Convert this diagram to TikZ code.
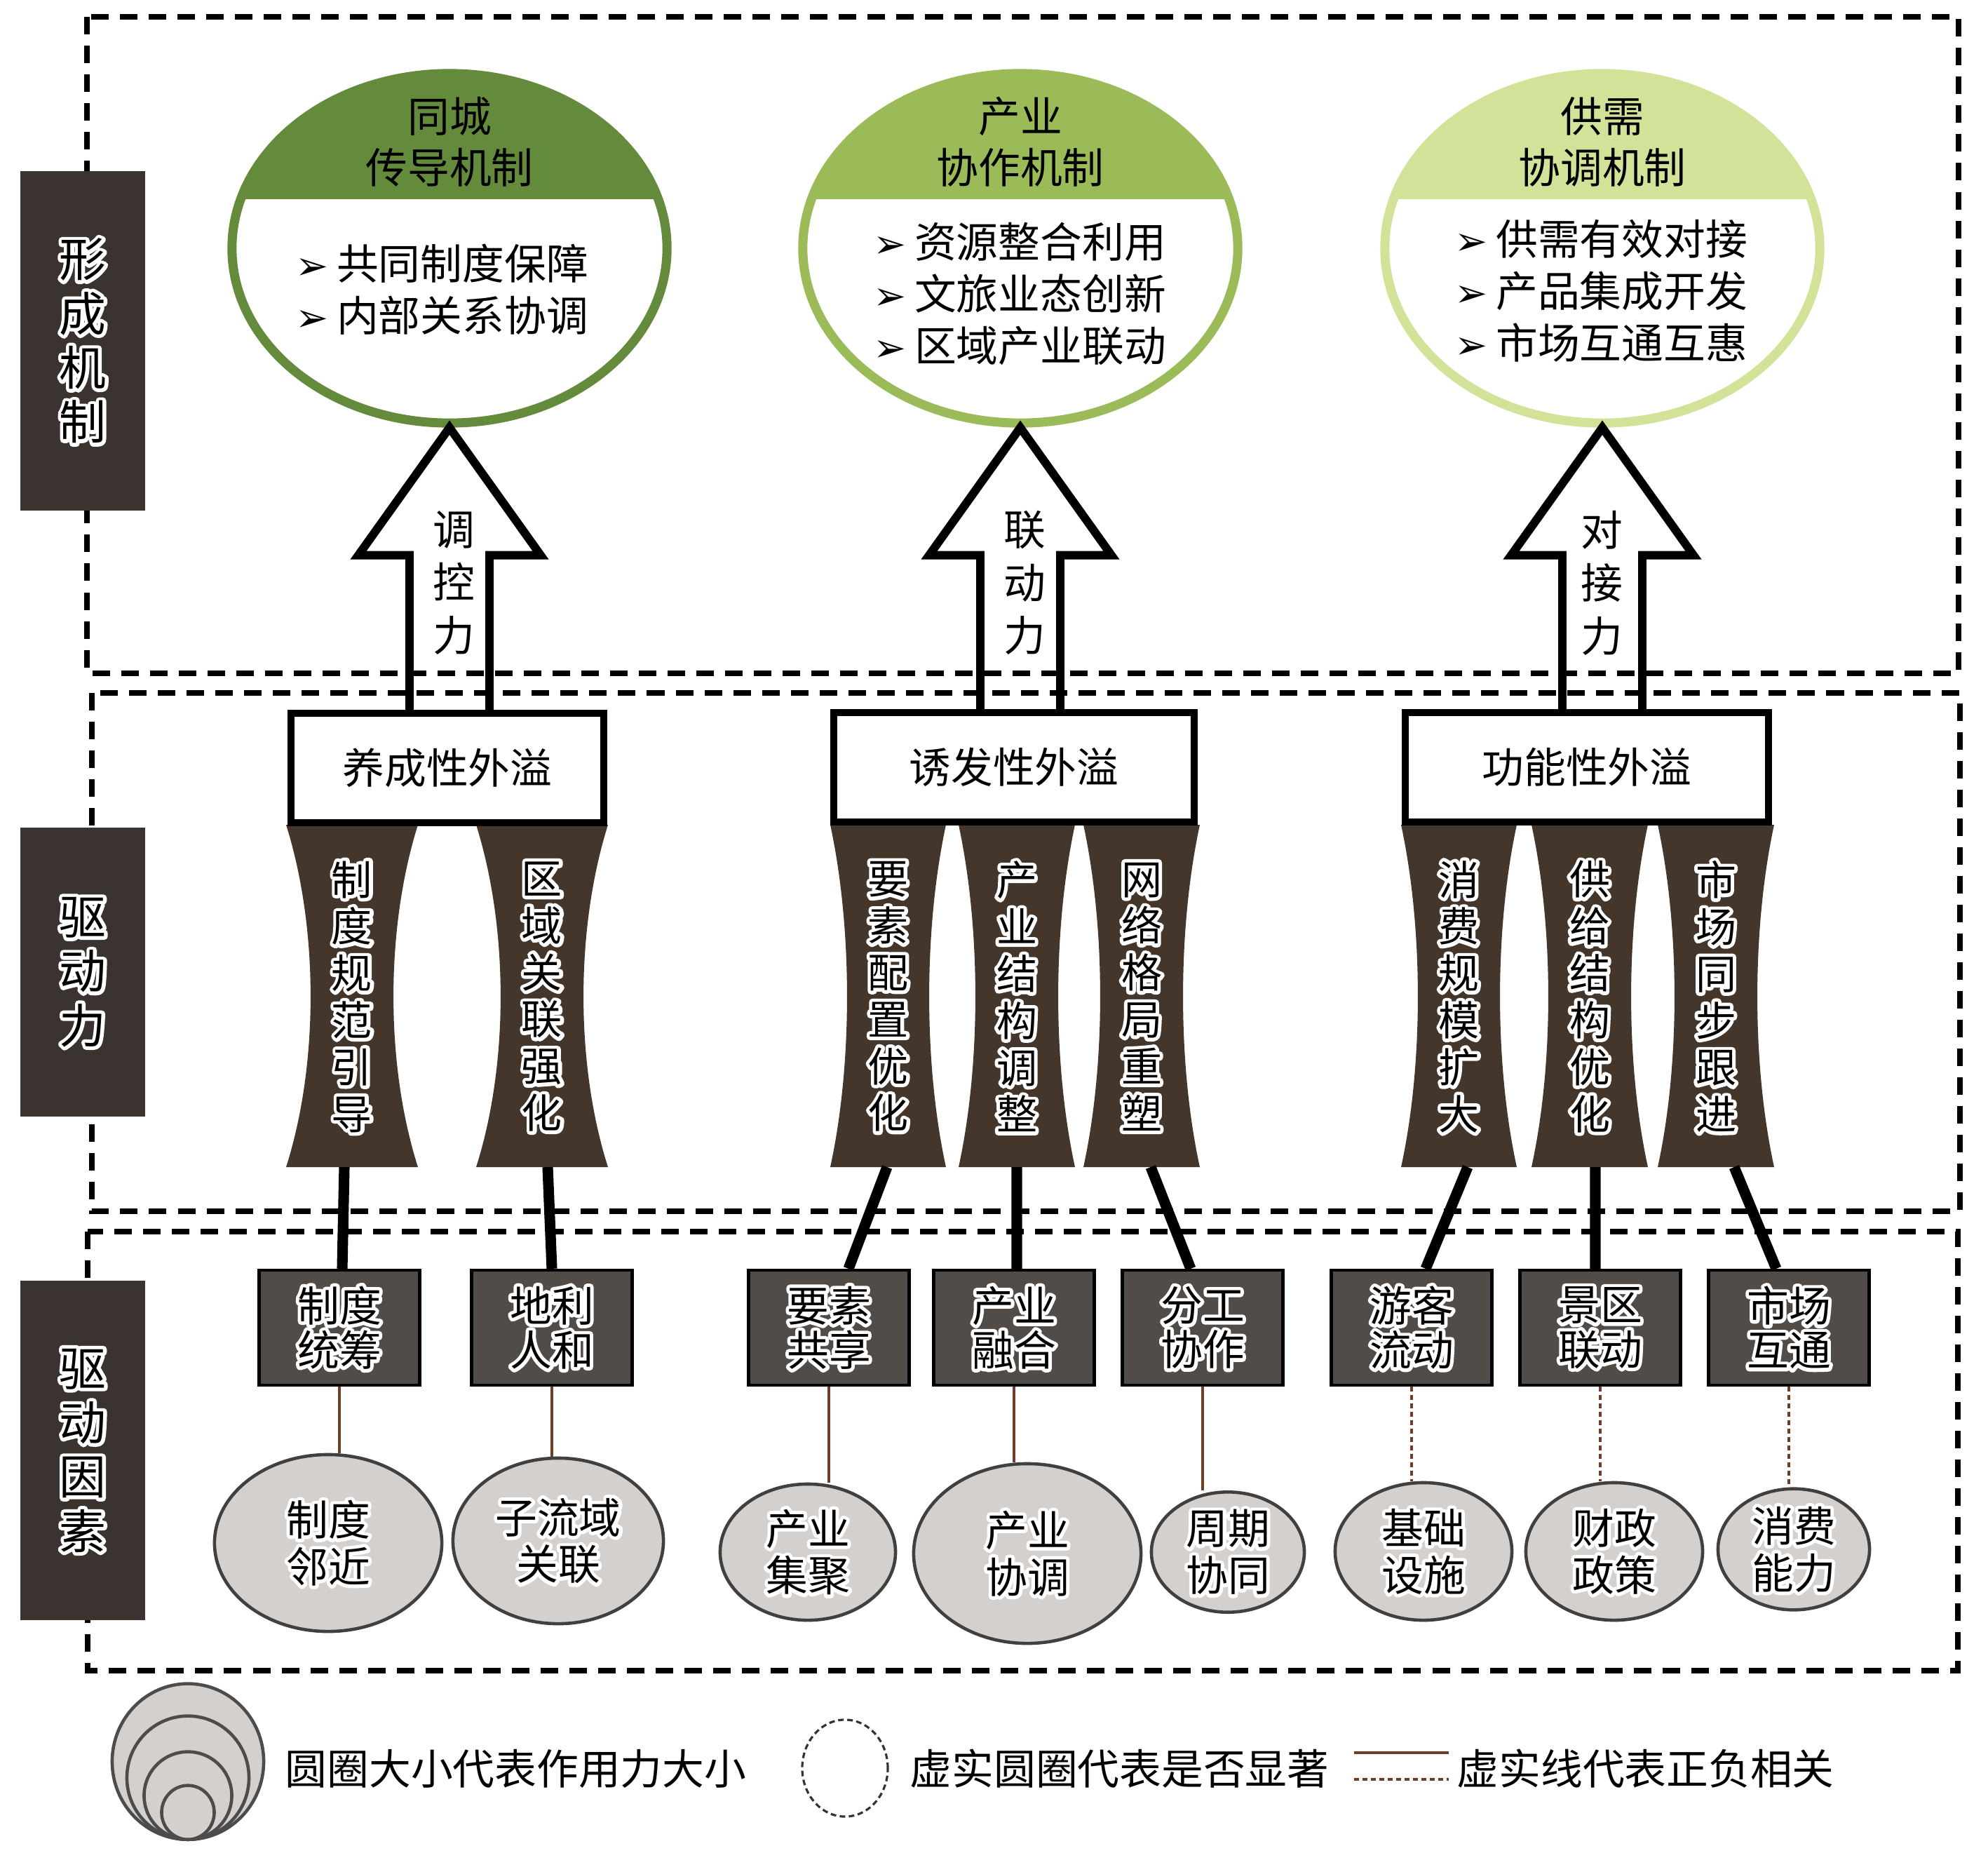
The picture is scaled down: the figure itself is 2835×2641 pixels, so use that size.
\documentclass[tikz,border=0pt]{standalone}
\usepackage{fontspec}
\setmainfont{Noto Sans CJK SC}
\newfontfamily\symfont{DejaVu Sans}
\usetikzlibrary{shapes.geometric,calc}

\definecolor{mechA}{RGB}{99,139,59}
\definecolor{mechB}{RGB}{155,187,89}
\definecolor{mechC}{RGB}{210,226,153}
\definecolor{barbrown}{RGB}{68,54,42}
\definecolor{labeldark}{RGB}{58,51,48}
\definecolor{factorgray}{RGB}{82,76,72}
\definecolor{ellgray}{RGB}{212,208,205}
\definecolor{linkbrown}{RGB}{115,60,40}

\newsavebox\halobox
\newcommand\halo[1]{\setbox\halobox=\hbox{#1}\leavevmode\hbox{\rlap{\color{white}\special{pdf:literal direct 1 Tr 2.8 w 1 j}\copy\halobox\special{pdf:literal direct 0 Tr}}\copy\halobox}}
\newcommand\stackc[2]{\vbox{\baselineskip=#1\lineskiplimit=-\maxdimen\lineskip=0pt\halign{\hfil##\hfil\cr#2\crcr}}}
\newcommand\bul{{\symfont\fontsize{16}{16}\selectfont ➢}\hspace{0.2em}}

\tikzset{
  dashbox/.style={line width=2.3pt, dash pattern=on 0.25cm off 0.16cm},
  sidelabel/.style={fill=labeldark, minimum width=1.78cm, inner sep=0pt, font=\fontsize{19}{22}\selectfont},
  mech/.style={ellipse, draw=#1, line width=3.7pt, minimum width=6.2cm, minimum height=4.98cm, inner sep=0pt,
    path picture={\fill[#1] (path picture bounding box.north west) rectangle ([yshift=-1.79cm]path picture bounding box.north east);}},
  plain/.style={inner sep=0pt, font=\fontsize{17}{21}\selectfont},
  bullets/.style={plain, align=left},
  bigarrow/.style={draw=black, line width=3.4pt, line join=miter},
  spill/.style={draw=black, line width=2.8pt, fill=white, minimum height=1.56cm, inner sep=0pt, font=\fontsize{17}{20}\selectfont},
  vbar/.style={inner sep=0pt, font=\fontsize{16.5}{19}\selectfont},
  force/.style={line width=4.3pt, black},
  factor/.style={draw=black, line width=1.2pt, fill=factorgray, minimum width=2.29cm, minimum height=1.64cm, inner sep=0pt, font=\fontsize{17}{18}\selectfont},
  factorell/.style={ellipse, draw=black!75, line width=1.3pt, fill=ellgray, inner sep=0pt, font=\fontsize{17}{19}\selectfont},
  link/.style={draw=linkbrown, line width=0.9pt},
  linkdash/.style={link, dash pattern=on 0.07cm off 0.05cm},
  legell/.style={ellipse, draw=black!70, line width=1.3pt, fill=ellgray, inner sep=0pt}
}

\begin{document}
\begin{tikzpicture}[x=0.01cm, y=-0.01cm]
\fill[white] (0,0) rectangle (2835,2641);
\useasboundingbox (0,0) rectangle (2835,2641);

\draw[dashbox] (124,24) rectangle (2793,960);
\draw[dashbox] (131,988) rectangle (2795,1727);
\draw[dashbox] (125,1756) rectangle (2792,2382);

\node[sidelabel, minimum height=4.84cm] (lb1) at (118,486) {\halo{\stackc{22pt}{形\cr 成\cr 机\cr 制}}};
\node[sidelabel, minimum height=4.12cm] (lb2) at (118,1386) {\halo{\stackc{22pt}{驱\cr 动\cr 力}}};
\node[sidelabel, minimum height=4.83cm] (lb3) at (118,2068) {\halo{\stackc{22pt}{驱\cr 动\cr 因\cr 素}}};

\node[mech=mechA] (m1) at (641,354) {};
\node[mech=mechB] (m2) at (1455,354) {};
\node[mech=mechC] (m3) at (2285,354) {};
\node[plain] (t1) at (641,202) {\stackc{20.7pt}{同城\cr 传导机制}};
\node[plain] (t2) at (1455,202) {\stackc{20.7pt}{产业\cr 协作机制}};
\node[plain] (t3) at (2285,202) {\stackc{20.7pt}{供需\cr 协调机制}};
\node[bullets] (b1) at (630,413) {\bul 共同制度保障\\\bul 内部关系协调};
\node[bullets] (b2) at (1454,419) {\bul 资源整合利用\\\bul 文旅业态创新\\\bul 区域产业联动};
\node[bullets] (b3) at (2283,415) {\bul 供需有效对接\\\bul 产品集成开发\\\bul 市场互通互惠};

\foreach \i/\lx/\w/\ins/\txt in {1/408/188/35/{制\cr 度\cr 规\cr 范\cr 引\cr 导}, 2/679/188/35/{区\cr 域\cr 关\cr 联\cr 强\cr 化},
  3/1184/165/24/{要\cr 素\cr 配\cr 置\cr 优\cr 化}, 4/1367/166/24/{产\cr 业\cr 结\cr 构\cr 调\cr 整}, 5/1545/166/24/{网\cr 络\cr 格\cr 局\cr 重\cr 塑},
  6/1998/165/24/{消\cr 费\cr 规\cr 模\cr 扩\cr 大}, 7/2184/166/24/{供\cr 给\cr 结\cr 构\cr 优\cr 化}, 8/2364/166/24/{市\cr 场\cr 同\cr 步\cr 跟\cr 进}}
{
  \fill[barbrown] (\lx,1176) .. controls ({\lx+\ins*1.33},1324) and ({\lx+\ins*1.33},1518) .. (\lx,1664)
    -- ({\lx+\w},1664) .. controls ({\lx+\w-\ins*1.33},1518) and ({\lx+\w-\ins*1.33},1324) .. ({\lx+\w},1176) -- cycle;
  \node[vbar] (hg\i) at ({\lx+\w/2},1421) {\halo{\stackc{19pt}{\txt}}};
}

\node[spill, minimum width=4.46cm] (sb1) at (638,1095) {养成性外溢};
\node[spill, minimum width=5.13cm] (sb2) at (1446,1094) {诱发性外溢};
\node[spill, minimum width=5.18cm] (sb3) at (2263,1094) {功能性外溢};

\foreach \i in {1,2,3}
  \draw[bigarrow] ($(m\i.south |- sb\i.north)+(-57,0)$) |- ($(m\i.south)+(-130,182)$) -- (m\i.south)
    -- ($(m\i.south)+(130,182)$) -| ($(m\i.south |- sb\i.north)+(57,0)$);
\node[plain] (a1) at (647,831) {\stackc{21.5pt}{调\cr 控\cr 力}};
\node[plain] (a2) at (1461,831) {\stackc{21.5pt}{联\cr 动\cr 力}};
\node[plain] (a3) at (2284,831) {\stackc{21.5pt}{对\cr 接\cr 力}};

\foreach \i/\x/\txt in {1/484/{制度\cr 统筹}, 2/787/{地利\cr 人和}, 3/1182/{要素\cr 共享}, 4/1446/{产业\cr 融合},
  5/1715/{分工\cr 协作}, 6/2013/{游客\cr 流动}, 7/2282/{景区\cr 联动}, 8/2551/{市场\cr 互通}}
  \node[factor] (fb\i) at (\x,1893) {\halo{\stackc{18pt}{\txt}}};

\foreach \i/\sx/\off in {1/491/0.04, 2/781/0, 3/1265/0.28, 4/1450/0.04, 5/1641/-0.17, 6/2093/0.20, 7/2275/-0.07, 8/2473/-0.18}
{
  \coordinate (hb\i) at (\sx,1664);
  \draw[force] (hb\i) -- ([xshift=\off cm]fb\i.north);
}

\foreach \i/\x/\y/\w/\h/\txt in {1/468/2200/3.24/2.52/{制度\cr 邻近}, 2/796/2197/3.00/2.36/{子流域\cr 关联},
  3/1152/2213/2.50/1.94/{产业\cr 集聚}, 4/1465/2215/3.24/2.56/{产业\cr 协调}, 5/1751/2213/2.18/1.66/{周期\cr 协同},
  6/2030/2212/2.52/1.96/{基础\cr 设施}, 7/2302/2212/2.52/1.96/{财政\cr 政策}, 8/2558/2209/2.16/1.68/{消费\cr 能力}}
  \node[factorell, minimum width=\w cm, minimum height=\h cm] (fe\i) at (\x,\y) {\halo{\stackc{19pt}{\txt}}};

\foreach \i in {1,...,5}
  \draw[link] (fb\i.south) -- (fb\i.south |- fe\i.north);
\foreach \i in {6,7,8}
  \draw[linkdash] (fb\i.south) -- (fb\i.south |- fe\i.north);

\foreach \i/\w/\h in {1/2.16/2.22, 2/1.74/1.76, 3/1.25/1.25, 4/0.75/0.77}
  \node[legell, minimum width=\w cm, minimum height=\h cm, anchor=south] (lg\i) at (268,2625) {};
\node[plain, anchor=west] (lt1) at (406,2522) {圆圈大小代表作用力大小};
\node[ellipse, draw=black!80, line width=0.9pt, dash pattern=on 0.08cm off 0.05cm, minimum width=1.22cm, minimum height=1.38cm] (lc) at (1205,2521) {};
\node[plain, anchor=west] (lt2) at (1297,2522) {虚实圆圈代表是否显著};
\coordinate (ls1) at (1931,2499);
\coordinate (le1) at (2066,2499);
\coordinate (ls2) at (1931,2537);
\coordinate (le2) at (2066,2537);
\draw[link] (ls1) -- (le1);
\draw[linkdash] (ls2) -- (le2);
\node[plain, anchor=west] (lt3) at (2077,2522) {虚实线代表正负相关};
\end{tikzpicture}
\end{document}
